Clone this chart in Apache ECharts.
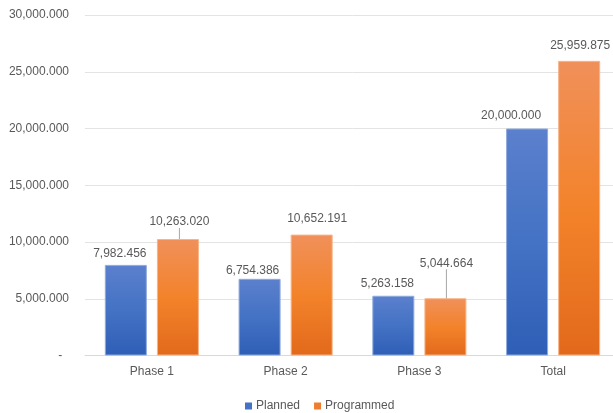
<!DOCTYPE html>
<html>
<head>
<meta charset="utf-8">
<script src="https://cdn.jsdelivr.net/npm/echarts@6/dist/echarts.min.js"></script>
<style>
  html, body { margin: 0; padding: 0; background: #ffffff; overflow: hidden; }
  #chart { width: 621px; height: 413px; }
</style>
</head>
<body>
<div id="chart"></div>
<script>
// Chart data
const categories = ['Phase 1', 'Phase 2', 'Phase 3', 'Total'];
const planned = [7982.456, 6754.386, 5263.158, 20000.000];
const programmed = [10263.020, 10652.191, 5044.664, 25959.875];
const seriesNames = ['Planned', 'Programmed'];

// Label nudges [dx, dy] and whether a leader line is drawn
const plannedLabelShift = [[-6, 0], [-7, 3], [-6, -1.5], [-16, -1.5]];
const programmedLabelShift = [[1.5, -6], [5.5, -4.6], [1, -24], [1, -4]];
const programmedLeader = [true, false, true, false];

const textColor = '#595959';
const fontFamily = '"Liberation Sans", Arial, sans-serif';

function fmt3(v) {
  return Number(v).toLocaleString('en-US', { minimumFractionDigits: 3, maximumFractionDigits: 3 });
}

function grad(top, mid, bottom) {
  return new echarts.graphic.LinearGradient(0, 0, 0, 1, [
    { offset: 0, color: top },
    { offset: 0.5, color: mid },
    { offset: 1, color: bottom }
  ]);
}

const labelBase = {
  show: true,
  position: 'top',
  distance: 5,
  color: textColor,
  fontFamily: fontFamily,
  fontSize: 12,
  formatter: p => fmt3(p.value)
};

const chart = echarts.init(document.getElementById('chart'), null, { renderer: 'canvas' });

chart.setOption({
  backgroundColor: '#ffffff',
  animation: false,
  textStyle: { fontFamily: fontFamily },
  grid: { left: 85, top: 15, width: 535, height: 340.5, containLabel: false },
  legend: {
    data: [
      { name: seriesNames[0], itemStyle: { color: '#4472c4', borderWidth: 0 } },
      { name: seriesNames[1], itemStyle: { color: '#ed7d31', borderWidth: 0 } }
    ],
    left: 240,
    top: 395,
    itemWidth: 7,
    itemHeight: 7,
    itemGap: 14,
    icon: 'rect',
    textStyle: { color: textColor, fontSize: 12, fontFamily: fontFamily, padding: [0, 0, 0, -1] }
  },
  xAxis: {
    type: 'category',
    data: categories,
    axisLine: { show: true, lineStyle: { color: '#d9d9d9', width: 1 } },
    axisTick: { show: false },
    axisLabel: { color: textColor, fontSize: 12, fontFamily: fontFamily, margin: 10 }
  },
  yAxis: {
    type: 'value',
    min: 0,
    max: 30000,
    interval: 5000,
    axisLine: { show: false },
    axisTick: { show: false },
    splitLine: { lineStyle: { color: '#e3e3e3', width: 1 } },
    axisLabel: {
      color: textColor,
      fontSize: 12,
      fontFamily: fontFamily,
      margin: 16,
      formatter: v => (v === 0 ? '-  ' : fmt3(v))
    }
  },
  series: [
    {
      name: seriesNames[0],
      type: 'bar',
      barWidth: 42,
      barGap: '24%',
      data: planned.map(v => ({ value: v, labelLine: { show: false } })),
      itemStyle: {
        color: grad('#5b80cd', '#4472c4', '#2e5eb6'),
        borderColor: '#8faadc',
        borderWidth: 1
      },
      label: labelBase,
      labelLayout: p => ({ dx: plannedLabelShift[p.dataIndex][0], dy: plannedLabelShift[p.dataIndex][1] }),
      labelLine: { show: false }
    },
    {
      name: seriesNames[1],
      type: 'bar',
      barWidth: 42,
      barGap: '24%',
      data: programmed.map((v, i) => ({
        value: v,
        labelLine: { show: programmedLeader[i], lineStyle: { color: '#a6a6a6', width: 1 } }
      })),
      itemStyle: {
        color: grad('#f0905a', '#f3832b', '#e2691b'),
        borderColor: '#f6b488',
        borderWidth: 1
      },
      label: labelBase,
      labelLayout: p => ({ dx: programmedLabelShift[p.dataIndex][0], dy: programmedLabelShift[p.dataIndex][1] }),
      labelLine: { show: true, length2: 0, lineStyle: { color: '#a6a6a6', width: 1 } }
    }
  ]
});
</script>
</body>
</html>
